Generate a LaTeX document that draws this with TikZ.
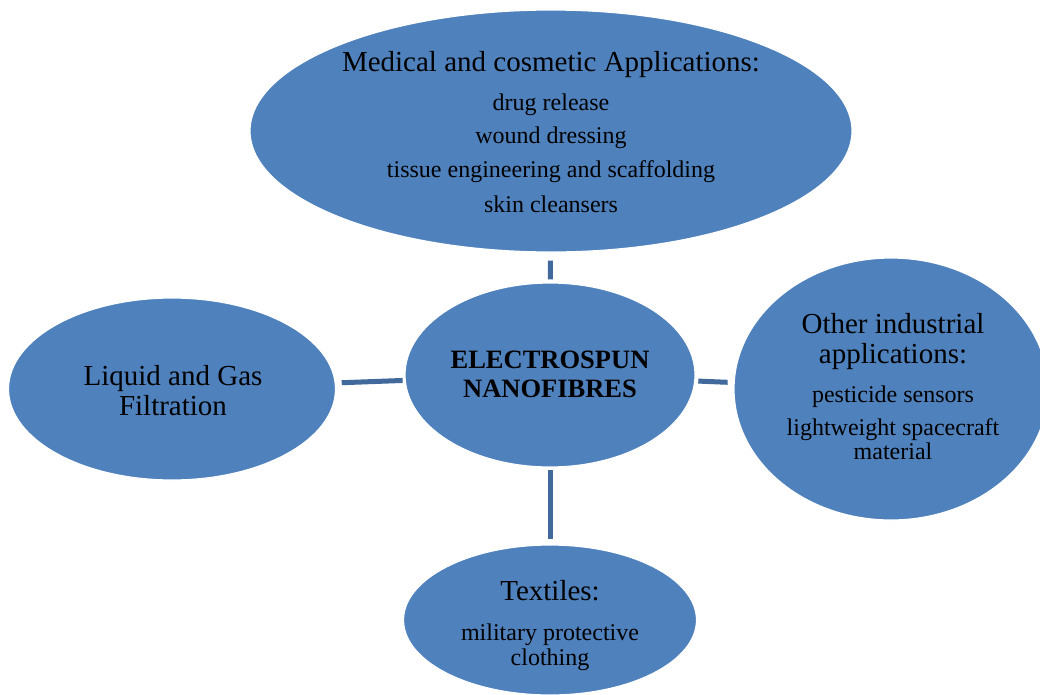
\documentclass[tikz,border=0pt]{standalone}
\usepackage{fontspec}
\setmainfont{Liberation Serif}
\usetikzlibrary{shapes.geometric}
\definecolor{bubfill}{HTML}{4F81BD}
\definecolor{linkcol}{HTML}{41699C}
\tikzset{
  bub/.style={ellipse, fill=bubfill, draw=white, line width=1.2pt, inner sep=0pt},
  link/.style={draw=linkcol, line width=5pt},
  hd/.style={anchor=base, inner sep=0pt, font=\fontsize{29}{30}\selectfont},
  itm/.style={anchor=base, inner sep=0pt, font=\fontsize{24}{25}\selectfont},
  bd/.style={anchor=base, inner sep=0pt, font=\fontsize{26.5}{28}\selectfont\bfseries}
}
\begin{document}
\begin{tikzpicture}[x=1pt,y=-1pt]
\clip (0,0) rectangle (1040,694);
\fill[white] (0,0) rectangle (1040,694);
% bubbles
\node[bub, minimum width=602pt, minimum height=242pt] (med) at (551,131) {};
\node[bub, minimum width=290pt, minimum height=184pt] (core) at (550,375) {};
\node[bub, minimum width=327pt, minimum height=182pt] (filt) at (172,389) {};
\node[bub, minimum width=314pt, minimum height=262pt] (ind) at (891,389) {};
\node[bub, minimum width=293pt, minimum height=150pt] (tex) at (550,620) {};
% connectors
\draw[link, shorten <=8pt, shorten >=3pt] (med) -- (core);
\draw[link, shorten <=6pt, shorten >=2pt] (filt) -- (core);
\draw[link, shorten <=3pt, shorten >=6pt] (core) -- (ind);
\draw[link, shorten <=2pt, shorten >=5pt] (core) -- (tex);
% texts
\node[hd]  (m0) at (551,71)  {Medical and cosmetic Applications:};
\node[itm] (m1) at (551,110) {drug release};
\node[itm] (m2) at (551,143) {wound dressing};
\node[itm] (m3) at (551,177) {tissue engineering and scaffolding};
\node[itm] (m4) at (551,212) {skin cleansers};
\node[bd]  (c1) at (550,368) {ELECTROSPUN};
\node[bd]  (c2) at (550,397) {NANOFIBRES};
\node[hd]  (f1) at (173,385) {Liquid and Gas};
\node[hd]  (f2) at (173,415) {Filtration};
\node[hd]  (o1) at (893,333) {Other industrial};
\node[hd]  (o2) at (893,363) {applications:};
\node[itm] (o3) at (893,402) {pesticide sensors};
\node[itm] (o4) at (893,435) {lightweight spacecraft};
\node[itm] (o5) at (893,459) {material};
\node[hd]  (t1) at (550,600) {Textiles:};
\node[itm] (t2) at (550,640) {military protective};
\node[itm] (t3) at (550,665) {clothing};
\end{tikzpicture}
\end{document}
